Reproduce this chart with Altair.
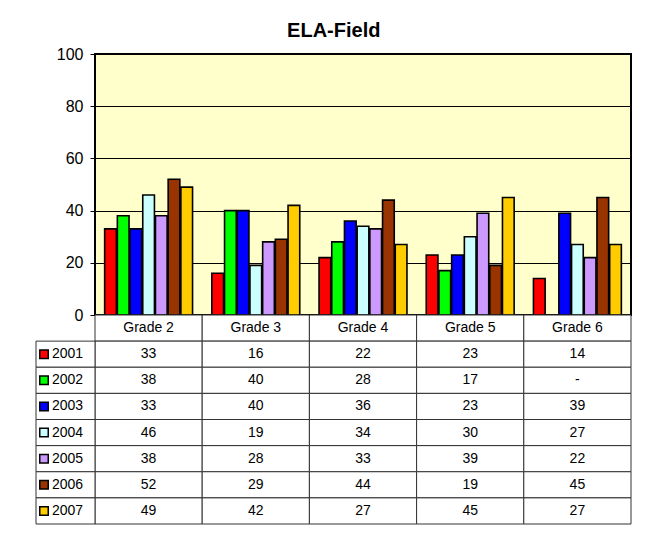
import altair as alt
import pandas as pd

grades = ["Grade 2", "Grade 3", "Grade 4", "Grade 5", "Grade 6"]
years = ["2001", "2002", "2003", "2004", "2005", "2006", "2007"]
colors = ["#FF0000", "#00FF00", "#0000FF", "#CCFFFF", "#CC99FF", "#993300", "#FFCC00"]

v2001 = [33, 16, 22, 23, 14]
v2002 = [38, 40, 28, 17, None]
v2003 = [33, 40, 36, 23, 39]
v2004 = [46, 19, 34, 30, 27]
v2005 = [38, 28, 33, 39, 22]
v2006 = [52, 29, 44, 19, 45]
v2007 = [49, 42, 27, 45, 27]
series = [v2001, v2002, v2003, v2004, v2005, v2006, v2007]

FONT = "Liberation Sans"

rows = []
for y, vals in zip(years, series):
    for g, v in zip(grades, vals):
        rows.append({"grade": g, "year": y, "value": v,
                     "label": "-" if v is None else str(v)})
df = pd.DataFrame(rows)
bars_df = df.dropna(subset=["value"])

header_df = pd.DataFrame({"grade": grades, "row": ["hdr"] * len(grades), "label": grades})
cells_df = pd.DataFrame({"grade": df["grade"], "row": df["year"], "label": df["label"]})
table_df = pd.concat([header_df, cells_df], ignore_index=True)
year_df = pd.DataFrame({"row": years})

row_order = ["hdr"] + years
color_scale = alt.Scale(domain=years, range=colors)

xscale = alt.Scale(domain=grades, paddingInner=0.18, paddingOuter=0.09)

bars = alt.Chart(bars_df).mark_bar(stroke="black", strokeWidth=1.6).encode(
    x=alt.X("grade:N", scale=xscale, axis=None),
    xOffset=alt.XOffset("year:N", scale=alt.Scale(domain=years, paddingInner=0.08)),
    y=alt.Y("value:Q", scale=alt.Scale(domain=[0, 100]),
            axis=alt.Axis(values=[0, 20, 40, 60, 80, 100], title=None, grid=True,
                          gridColor="black", gridWidth=1, domain=False,
                          tickColor="black", tickSize=5, labelPadding=7,
                          labelFont=FONT, labelFontSize=16, labelColor="black")),
    color=alt.Color("year:N", scale=color_scale, legend=None),
)

top = bars.properties(
    width=536, height=261,
    view=alt.ViewBackground(fill="#FFFFCC", stroke="black", strokeWidth=2),
)

yband = alt.Scale(domain=row_order, paddingInner=0, paddingOuter=0)
gband = alt.Scale(domain=grades, paddingInner=0, paddingOuter=0)

cells = alt.Chart(table_df).mark_rect(fill="white", stroke="#333333", strokeWidth=1).encode(
    x=alt.X("grade:N", scale=gband, axis=None),
    y=alt.Y("row:N", scale=yband, axis=None),
)
texts = alt.Chart(table_df).mark_text(font=FONT, fontSize=14, color="black").encode(
    x=alt.X("grade:N", scale=gband, axis=None),
    y=alt.Y("row:N", scale=yband, axis=None),
    text="label:N",
)
left_cells = alt.Chart(year_df).mark_rect(fill="white", stroke="#333333", strokeWidth=1).encode(
    x=alt.value(-59), x2=alt.value(0),
    y=alt.Y("row:N", scale=yband, axis=None),
)
keys = alt.Chart(year_df).mark_square(size=72, stroke="black", strokeWidth=1.5, opacity=1).encode(
    x=alt.value(-51),
    y=alt.Y("row:N", scale=yband, axis=None),
    color=alt.Color("row:N", scale=color_scale, legend=None),
)
year_text = alt.Chart(year_df).mark_text(font=FONT, fontSize=14, align="left", color="black").encode(
    x=alt.value(-43),
    y=alt.Y("row:N", scale=yband, axis=None),
    text="row:N",
)

table = alt.layer(cells, texts, left_cells, keys, year_text).properties(
    width=536, height=209,
    view=alt.ViewBackground(stroke=None),
)

chart = alt.vconcat(top, table, spacing=0, bounds="flush").properties(
    title=alt.TitleParams("ELA-Field", font=FONT, fontSize=20, fontWeight="bold",
                          color="black", anchor="middle", offset=4),
    padding={"left": 27, "top": 13, "right": 5, "bottom": 5},
).configure_view(strokeWidth=0)

chart.save("out.html", embed_options={"renderer": "svg", "actions": False})
